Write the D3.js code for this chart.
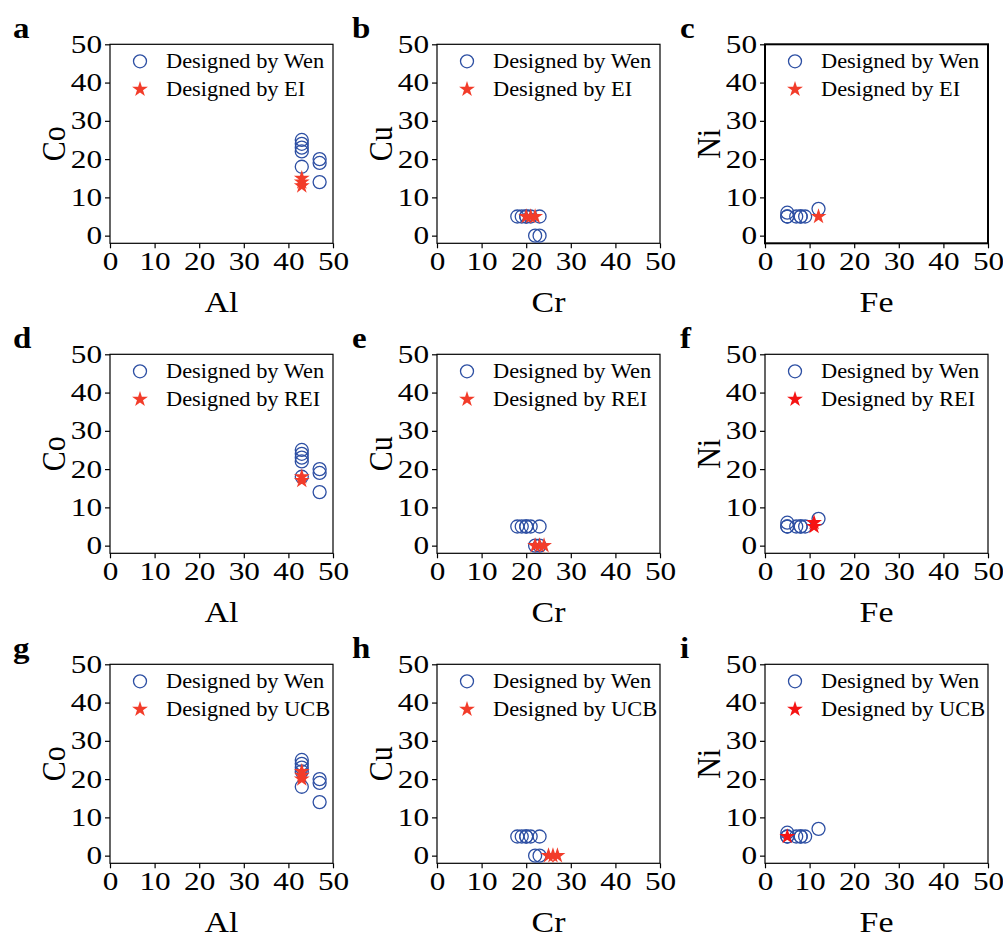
<!DOCTYPE html>
<html>
<head>
<meta charset="utf-8">
<script src="https://cdn.jsdelivr.net/npm/d3@7"></script>
<style>
body { margin: 0; background: #fff; }
svg text { font-family: "Liberation Serif", "Times New Roman", serif; fill: #000; }
.axis path, .axis line { stroke: #000; stroke-width: 1.2; }
</style>
</head>
<body>
<script>
const WIDTH = 1003;
const HEIGHT = 946;
const PW = 223;
const PH = 199;
const LEFTS = [110, 437, 765];
const TOPS = [44.3, 354.3, 664.3];

// compositions designed by Wen (at.%)
const wenAl = [43, 43, 43, 43, 43, 47, 47, 47];
const wenCo = [25, 24, 23, 22, 18, 20, 19, 14];
const wenCr = [18, 19, 20, 20, 21, 23, 22, 23];
const wenCu = [5, 5, 5, 5, 5, 5, 0, 0];
const wenFe = [5, 5, 7, 8, 8, 9, 12, 5];
const wenNi = [6, 5, 5, 5, 5, 5, 7, 5];

// EI designs
const eiAl = [43, 43, 43];
const eiCo = [13, 14, 15];
const eiCr = [20, 21, 22];
const eiCu = [5, 5, 5];
const eiFe = [12];
const eiNi = [5];

// REI designs
const reiAl = [43, 43];
const reiCo = [17, 18];
const reiCr = [22, 23, 24];
const reiCu = [0, 0, 0];
const reiFe = [11, 11];
const reiNi = [5, 6];

// UCB designs
const ucbAl = [43, 43, 43];
const ucbCo = [20, 21, 22];
const ucbCr = [25, 26, 27];
const ucbCu = [0, 0, 0];
const ucbFe = [5];
const ucbNi = [5];

const xTicks = [0, 10, 20, 30, 40, 50];
const yTicks = [0, 10, 20, 30, 40, 50];

const panels = [
	{id:'a', xl:'Al', yl:'Co', m:'EI',  wx:wenAl, wy:wenCo, sx:eiAl,  sy:eiCo},
	{id:'b', xl:'Cr', yl:'Cu', m:'EI',  wx:wenCr, wy:wenCu, sx:eiCr,  sy:eiCu},
	{id:'c', xl:'Fe', yl:'Ni', m:'EI',  wx:wenFe, wy:wenNi, sx:eiFe,  sy:eiNi, frame:2},
	{id:'d', xl:'Al', yl:'Co', m:'REI', wx:wenAl, wy:wenCo, sx:reiAl, sy:reiCo},
	{id:'e', xl:'Cr', yl:'Cu', m:'REI', wx:wenCr, wy:wenCu, sx:reiCr, sy:reiCu},
	{id:'f', xl:'Fe', yl:'Ni', m:'REI', wx:wenFe, wy:wenNi, sx:reiFe, sy:reiNi, red:'#f51414'},
	{id:'g', xl:'Al', yl:'Co', m:'UCB', wx:wenAl, wy:wenCo, sx:ucbAl, sy:ucbCo},
	{id:'h', xl:'Cr', yl:'Cu', m:'UCB', wx:wenCr, wy:wenCu, sx:ucbCr, sy:ucbCu},
	{id:'i', xl:'Fe', yl:'Ni', m:'UCB', wx:wenFe, wy:wenNi, sx:ucbFe, sy:ucbNi, red:'#f51414'}
];

const BLUE = '#2d4fa3';
const RED = '#f23c2a';
const TICK_K = 1.25;

var star = d3.symbol().type(d3.symbolStar).size(78);

var svg = d3.select('body').append('svg')
	.attr('width', WIDTH)
	.attr('height', HEIGHT);

var xScale = d3.scaleLinear().domain([0, 50]).range([0, PW]);
var yScale = d3.scaleLinear().domain([-2, 50]).range([PH, 0]);

var drawPanel = function(p, i){
	var g = svg.append('g')
		.attr('transform', 'translate(' + LEFTS[i % 3] + ',' + TOPS[Math.floor(i / 3)] + ')');

	// frame
	g.append('rect')
		.attr('width', PW).attr('height', PH)
		.attr('fill', 'none').attr('stroke', '#000')
		.attr('stroke-width', p.frame || 1.2);

	var xAxis = g.append('g').classed('axis', true)
		.attr('transform', 'translate(0,' + PH + ')')
		.call(d3.axisBottom(xScale).tickValues(xTicks).tickSize(5).tickPadding(4).tickSizeOuter(0));
	xAxis.selectAll('text')
		.attr('font-size', 25)
		.attr('transform', 'scale(' + TICK_K + ',1)');

	var yAxis = g.append('g').classed('axis', true)
		.call(d3.axisLeft(yScale).tickValues(yTicks).tickSize(5).tickPadding(3).tickSizeOuter(0));
	yAxis.selectAll('text')
		.attr('font-size', 25)
		.attr('x', -8 / TICK_K)
		.attr('transform', 'scale(' + TICK_K + ',1)');
	yAxis.select('.domain').remove();
	xAxis.select('.domain').remove();

	// axis titles
	g.append('text')
		.attr('transform', 'translate(' + (PW / 2) + ',' + (PH + 69) + ') scale(1.13,1)')
		.attr('text-anchor', 'middle')
		.attr('font-size', 30)
		.text(p.xl);
	g.append('text')
		.attr('transform', 'translate(-45,' + (PH / 2) + ') rotate(-90) scale(1,1.13)')
		.attr('text-anchor', 'middle')
		.attr('font-size', 30)
		.text(p.yl);

	// panel letter
	g.append('text')
		.attr('transform', 'translate(' + (i % 3 === 0 ? -97 : -85) + ',-6) scale(1.1,1)')
		.attr('font-size', 30)
		.attr('font-weight', 'bold')
		.text(p.id);

	// legend
	g.append('circle')
		.attr('cx', 30).attr('cy', 17).attr('r', 6.5)
		.attr('fill', 'none').attr('stroke', BLUE).attr('stroke-width', 1.3);
	g.append('path')
		.attr('d', star())
		.attr('transform', 'translate(30,45)')
		.attr('fill', p.red || RED);
	g.append('text')
		.attr('transform', 'translate(56,17) scale(1.12,1)')
		.attr('dy', '0.34em')
		.attr('font-size', 20)
		.text('Designed by Wen');
	g.append('text')
		.attr('transform', 'translate(56,45) scale(1.12,1)')
		.attr('dy', '0.34em')
		.attr('font-size', 20)
		.text('Designed by ' + p.m);

	// Wen points
	g.append('g').selectAll('circle')
		.data(d3.range(p.wx.length))
		.enter().append('circle')
		.attr('cx', function(k){ return xScale(p.wx[k]); })
		.attr('cy', function(k){ return yScale(p.wy[k]); })
		.attr('r', 6.5)
		.attr('fill', 'none')
		.attr('stroke', BLUE)
		.attr('stroke-width', 1.3);

	// designed points
	g.append('g').selectAll('path')
		.data(d3.range(p.sx.length))
		.enter().append('path')
		.attr('d', star())
		.attr('transform', function(k){ return 'translate(' + xScale(p.sx[k]) + ',' + yScale(p.sy[k]) + ')'; })
		.attr('fill', p.red || RED);
};

panels.forEach(drawPanel);
</script>
</body>
</html>
